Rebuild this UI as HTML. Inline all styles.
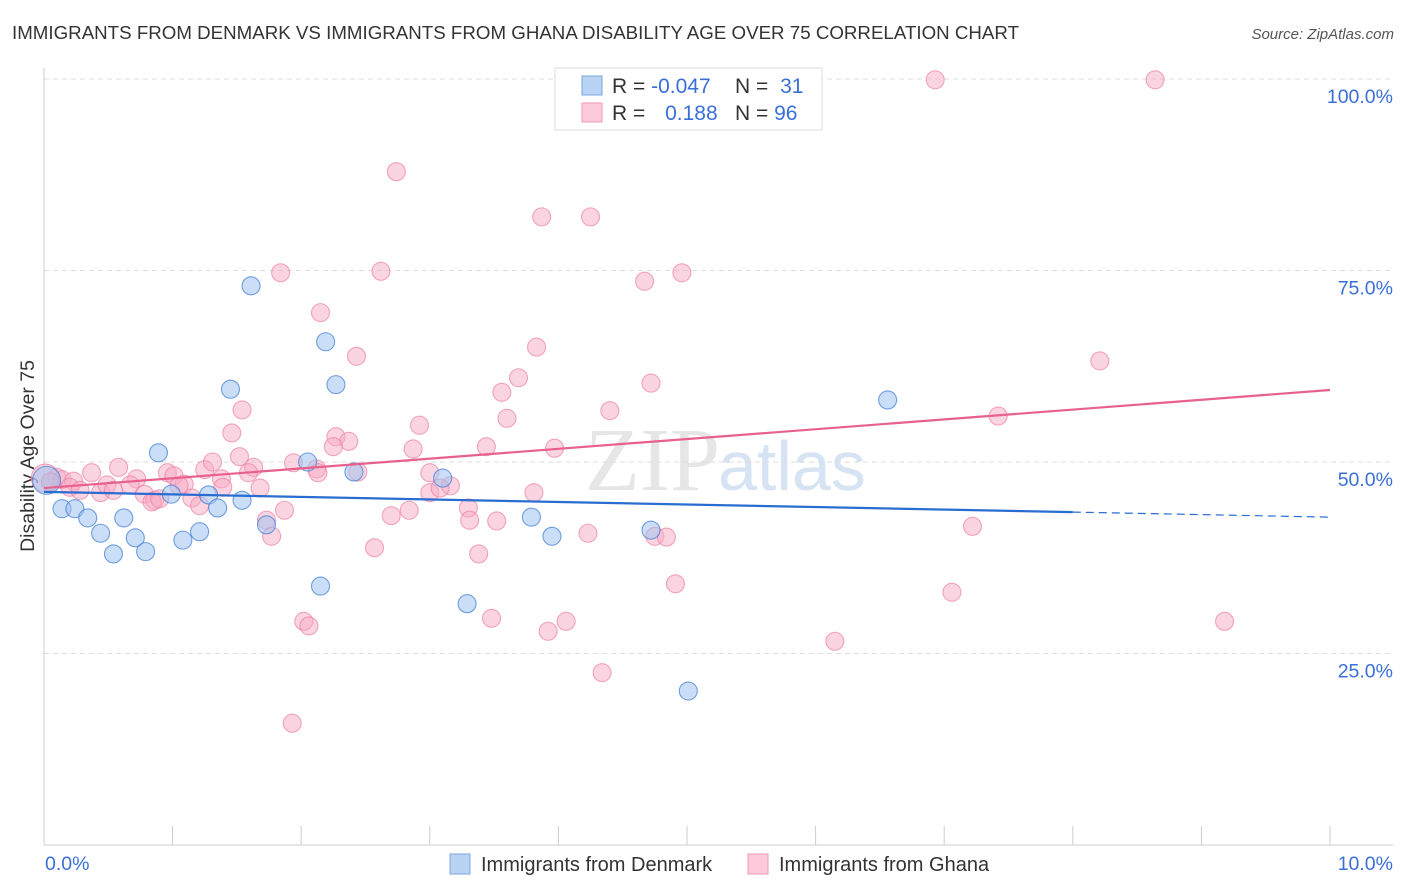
<!DOCTYPE html>
<html><head><meta charset="utf-8"><style>
body{margin:0;background:#fff;font-family:"Liberation Sans",sans-serif;}
svg{display:block}
</style></head><body>
<svg id="c" width="1406" height="892">
<text x="12" y="39" font-size="18.7" fill="#333" textLength="1007">IMMIGRANTS FROM DENMARK VS IMMIGRANTS FROM GHANA DISABILITY AGE OVER 75 CORRELATION CHART</text>
<text x="1394" y="39" font-size="15" fill="#555" font-style="italic" text-anchor="end">Source: ZipAtlas.com</text>
<text x="34" y="456" font-size="19.5" fill="#333" text-anchor="middle" transform="rotate(-90 34 456)">Disability Age Over 75</text>
<text x="720" y="490" font-size="90" fill="#e6e6e6" text-anchor="end" font-family="Liberation Serif,serif">ZIP</text>
<text x="718" y="490" font-size="70" fill="#d6e3f3">atlas</text>
<g id="grid"></g><g id="axes"></g><g id="pts"></g><g id="lines"></g>
<g>
<rect x="555" y="68" width="267" height="62" fill="#fff" stroke="#ddd"/>
<rect x="582" y="76" width="20" height="19" fill="#b9d3f5" stroke="#7aa7e0"/>
<rect x="582" y="103" width="20" height="19" fill="#fccadb" stroke="#ef9ab6"/>
<text x="612" y="93" font-size="21" fill="#333">R = <tspan fill="#3a6fd8">-0.047</tspan></text>
<text x="735" y="93" font-size="21" fill="#333">N = <tspan fill="#3a6fd8" dx="6">31</tspan></text>
<text x="612" y="120" font-size="21" fill="#333">R = <tspan fill="#3a6fd8" dx="14">0.188</tspan></text>
<text x="735" y="120" font-size="21" fill="#333">N = <tspan fill="#3a6fd8">96</tspan></text>
</g>
<g>
<rect x="450" y="854" width="20" height="20" fill="#b9d3f5" stroke="#7aa7e0"/>
<text x="481" y="871" font-size="20" fill="#333">Immigrants from Denmark</text>
<rect x="748" y="854" width="20" height="20" fill="#fccadb" stroke="#ef9ab6"/>
<text x="779" y="871" font-size="20" fill="#333">Immigrants from Ghana</text>
</g>
</svg>
<script>
const blueX=[0.02,0.14,0.24,0.34,0.44,0.54,0.62,0.71,0.79,0.89,0.99,1.08,1.21,1.28,1.35,1.45,1.54,1.61,1.73,2.05,2.15,2.19,2.27,2.41,3.10,3.29,3.79,3.95,4.72,5.01,6.56];
const blueY=[47.6,43.9,43.9,42.7,40.7,38.0,42.7,40.1,38.3,51.2,45.8,39.8,40.9,45.7,44.0,59.5,45.0,73.0,41.8,50.0,33.8,65.7,60.1,48.7,47.9,31.5,42.8,40.3,41.1,20.1,58.1];
const pinkX=[6.93,8.64,2.74,3.87,4.25,1.84,2.62,4.67,4.96,2.15,3.83,2.43,8.21,3.69,3.56,4.72,1.54,4.40,7.42,3.60,2.92,1.46,2.27,2.37,3.44,3.97,2.87,2.25,1.52,1.63,1.25,1.31,1.94,0.58,0.37,0.10,0.96,1.01,0.72,1.59,1.38,2.12,2.13,3.00,2.44,3.16,0.14,0.23,0.20,0.44,0.49,0.28,0.67,0.78,0.86,1.09,1.05,1.15,1.21,1.39,1.68,0.84,0.90,1.87,1.73,1.77,2.70,2.84,3.00,3.30,3.31,3.52,3.81,4.23,4.75,4.84,2.57,3.38,7.22,4.91,7.06,2.02,2.06,3.48,3.92,4.06,6.15,9.18,4.34,1.93,0.01,0.05,0.54,3.08];
const pinkY=[99.9,99.9,87.9,82.0,82.0,74.7,74.9,73.6,74.7,69.5,65.0,63.8,63.2,61.0,59.1,60.3,56.8,56.7,56.0,55.7,54.8,53.8,53.3,52.7,52.0,51.8,51.7,52.0,50.7,49.3,49.0,50.0,49.9,49.3,48.6,48.0,48.6,48.2,47.8,48.6,47.8,49.1,48.6,48.6,48.7,46.9,47.7,47.5,46.7,46.0,47.0,46.3,47.0,45.8,45.0,47.1,46.9,45.3,44.3,46.7,46.6,44.8,45.2,43.7,42.4,40.3,43.0,43.7,46.0,44.0,42.4,42.3,46.0,40.7,40.3,40.2,38.8,38.0,41.6,34.1,33.0,29.2,28.6,29.6,27.9,29.2,26.6,29.2,22.5,15.9,47.9,47.4,46.3,46.6];
const blueTrend=[46.1,42.8];
const pinkTrend=[46.6,59.4];
const yTicks=[100,75,50,25];
const yTickLabels=["100.0%","75.0%","50.0%","25.0%"];
const xTickLabels=["0.0%","10.0%"];
const NS="http://www.w3.org/2000/svg";
const X=v=>44+v*128.6, Y=v=>845-v*7.66;
function mk(t,a,p){const e=document.createElementNS(NS,t);for(const k in a)e.setAttribute(k,a[k]);document.getElementById(p).appendChild(e);return e;}
yTicks.forEach((t,i)=>{
 const g=mk('line',{x1:44,x2:1393,y1:Y(t),y2:Y(t),stroke:'#ddd','stroke-dasharray':'5,4'},'grid');
 
 
 const l=mk('text',{x:1393,y:Y(t)+24,'font-size':19.5,fill:'#3a6fd8','text-anchor':'end'},'grid');l.textContent=yTickLabels[i];
 
 
});
const ax=mk('line',{x1:44,x2:44,y1:68,y2:845,stroke:'#ccc'},'axes');


const bx=mk('line',{x1:44,x2:1393,y1:845,y2:845,stroke:'#ccc'},'axes');


for(let i=1;i<=10;i++){const t=mk('line',{x1:X(i),x2:X(i),y1:826,y2:845,stroke:'#ccc'},'axes');
 
 }
[[0,'start',45],[10,'end',1393]].forEach((d,i)=>{const t=mk('text',{x:d[2],y:870,'font-size':19.5,fill:'#3a6fd8','text-anchor':d[1]},'axes');t.textContent=xTickLabels[i];
 
 });
pinkX.forEach((x,i)=>{const c=mk('circle',{cx:X(x),cy:Y(pinkY[i]),r:i==90?14:9,fill:'rgba(248,170,195,0.5)',stroke:'rgba(236,130,165,0.7)','stroke-width':1.1},'pts');
 
 });
blueX.forEach((x,i)=>{const c=mk('circle',{cx:X(x),cy:Y(blueY[i]),r:i==0?14:9,fill:'rgba(160,195,240,0.55)',stroke:'rgba(70,130,215,0.75)','stroke-width':1.1},'pts');
 
 });
const bAt=v=>blueTrend[0]+(blueTrend[1]-blueTrend[0])*v/10;
let l1=mk('line',{x1:X(0),y1:Y(bAt(0)),x2:X(8),y2:Y(bAt(8)),stroke:'#2a6dd0','stroke-width':2.2},'lines');


let l2=mk('line',{x1:X(8),y1:Y(bAt(8)),x2:X(10),y2:Y(bAt(10)),stroke:'#2a6dd0','stroke-width':1.2,'stroke-dasharray':'8,5'},'lines');


let l3=mk('line',{x1:X(0),y1:Y(pinkTrend[0]),x2:X(10),y2:Y(pinkTrend[1]),stroke:'#e8608c','stroke-width':2.2},'lines');


</script>
</body></html>
